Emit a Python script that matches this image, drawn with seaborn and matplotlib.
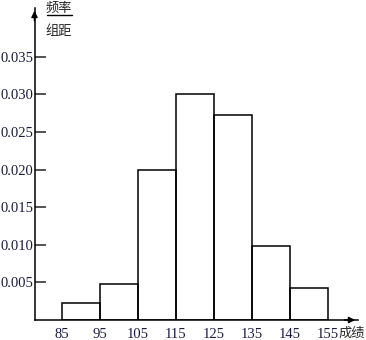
import matplotlib
matplotlib.use("Agg")
import matplotlib.pyplot as plt
import seaborn as sns
import numpy as np
import pandas as pd

# data
bin_edges = [85, 95, 105, 115, 125, 135, 145, 155]
heights = [0.0022, 0.0048, 0.0200, 0.0300, 0.0273, 0.0098, 0.0043]
y_ticks = [0.005, 0.010, 0.015, 0.020, 0.025, 0.030, 0.035]
y_tick_labels = ["0.005", "0.010", "0.015", "0.020", "0.025", "0.030", "0.035"]
x_ticks = [85, 95, 105, 115, 125, 135, 145, 155]
x_tick_labels = ["85", "95", "105", "115", "125", "135", "145", "155"]

sns.set_style("white")
plt.rcParams['font.family'] = ['Liberation Serif', 'DejaVu Serif']

W, H = 366, 340
fig = plt.figure(figsize=(W / 100, H / 100), dpi=100)
ax = fig.add_axes([34.5 / W, 1 - 320 / H, (358 - 34.5) / W, (320 - 8) / H])

mids = [(a + b) / 2 for a, b in zip(bin_edges[:-1], bin_edges[1:])]
df = pd.DataFrame({"score": mids, "w": heights})
sns.histplot(data=df, x="score", weights="w", bins=bin_edges, stat="count",
             fill=False, color="black", linewidth=1.1, ax=ax, element="bars")

ax.set_xlim(77.7, 163)
ax.set_ylim(0, 0.0415)
ax.set_xlabel("")
ax.set_ylabel("")
for s in ["top", "right"]:
    ax.spines[s].set_visible(False)
for s in ["left", "bottom"]:
    ax.spines[s].set_color("black")
    ax.spines[s].set_linewidth(1.1)

ax.set_yticks(y_ticks)
ax.set_yticklabels(y_tick_labels, fontsize=10.5, color="#1a1a40")
ax.tick_params(axis="y", direction="in", length=8, width=1.1, pad=1, left=True)
ax.set_xticks(x_ticks)
ax.set_xticklabels(x_tick_labels, fontsize=10.5, color="#1a1a40")
ax.tick_params(axis="x", length=0, pad=6)

# axis arrows
ax.annotate("", xy=(1.0, 0), xycoords="axes fraction", xytext=(0.95, 0),
            arrowprops=dict(arrowstyle="-|>", color="black", lw=1.1, mutation_scale=9))
ax.annotate("", xy=(0, 1.0), xycoords="axes fraction", xytext=(0, 0.95),
            arrowprops=dict(arrowstyle="-|>", color="black", lw=1.1, mutation_scale=9))

cjk = ['Noto Sans CJK SC', 'DejaVu Sans']
fig.text(59 / W, 1 - 8 / H, "频率", family=cjk, fontsize=9.5, ha="center", va="center")
fig.add_artist(plt.Line2D([47 / W, 72 / W], [1 - 15 / H, 1 - 15 / H], color="black", lw=1))
fig.text(59 / W, 1 - 31 / H, "组距", family=cjk, fontsize=9.5, ha="center", va="center")
fig.text(352 / W, 1 - 333 / H, "成绩", family=cjk, fontsize=9.5, ha="center", va="center")

fig.savefig("out.png", dpi=100)
